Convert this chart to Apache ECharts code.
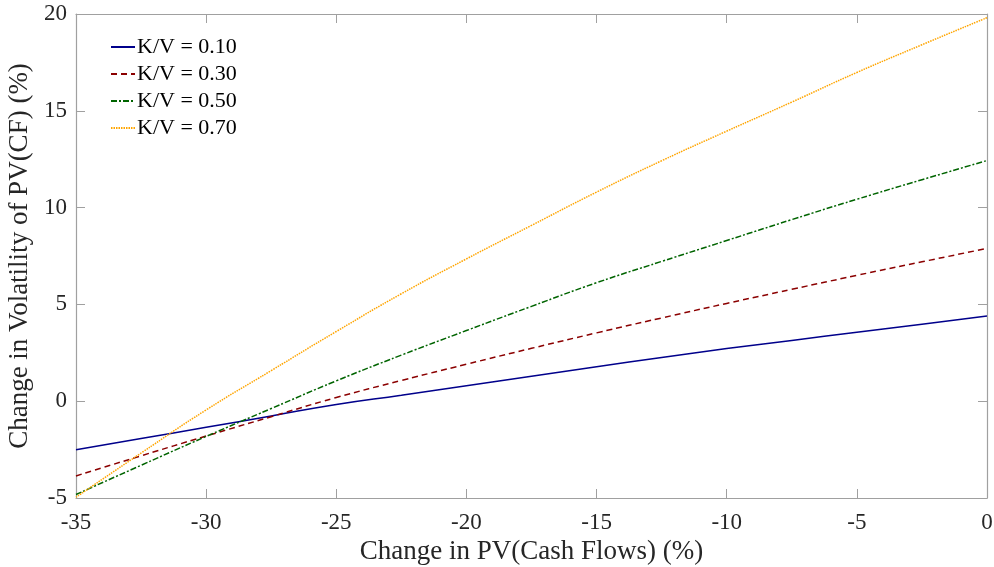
<!DOCTYPE html>
<html>
<head>
<meta charset="utf-8">
<script src="https://cdn.jsdelivr.net/npm/echarts@6/dist/echarts.min.js"></script>
<style>html,body{margin:0;padding:0;background:#fff;}#c{width:994px;height:567px;}</style>
</head>
<body>
<div id="c"></div>
<script>
const xValues = [-35, -32.5, -30, -27.5, -25, -22.5, -20, -17.5, -15, -12.5, -10, -7.5, -5, -2.5, 0];
const kv010 = [-2.51, -1.93, -1.35, -0.76, -0.17, 0.31, 0.80, 1.29, 1.78, 2.26, 2.72, 3.14, 3.56, 3.98, 4.40];
const kv030 = [-3.86, -2.82, -1.80, -0.80, 0.19, 1.07, 1.91, 2.73, 3.53, 4.30, 5.05, 5.78, 6.50, 7.20, 7.89];
const kv050 = [-4.82, -3.31, -1.82, -0.38, 1.05, 2.38, 3.65, 4.90, 6.12, 7.22, 8.30, 9.38, 10.43, 11.44, 12.43];
const kv070 = [-4.96, -2.68, -0.45, 1.58, 3.60, 5.55, 7.35, 9.08, 10.80, 12.42, 13.95, 15.45, 16.98, 18.41, 19.81];
const seriesNames = ['K/V = 0.10', 'K/V = 0.30', 'K/V = 0.50', 'K/V = 0.70'];
const xTicks = [-35, -30, -25, -20, -15, -10, -5, 0];
const yTicks = [-5, 0, 5, 10, 15, 20];

const font = 'Liberation Serif, Times New Roman, serif';
const axisGray = '#a0a0a0';
const txt = '#262626';
function pairs(ys){ return xValues.map((x,i)=>[x, ys[i]]); }

const chart = echarts.init(document.getElementById('c'), null, {renderer:'canvas'});
const baseX = {
  type:'value', min:-35, max:0, interval:5,
  axisLine:{show:true, onZero:false, lineStyle:{color:axisGray, width:1.2}},
  axisTick:{show:true, inside:true, length:9, lineStyle:{color:axisGray}},
  splitLine:{show:false}
};
const baseY = {
  type:'value', min:-5, max:20, interval:5,
  axisLine:{show:true, onZero:false, lineStyle:{color:axisGray, width:1.2}},
  axisTick:{show:true, inside:true, length:9, lineStyle:{color:axisGray}},
  splitLine:{show:false}
};
const styles = [
  {color:'#00008b', type:'solid'},
  {color:'#8b0000', type:[6,4]},
  {color:'#006400', type:[6,2,2,2]},
  {color:'#ffa500', type:[1.5,1]}
];
const data = [kv010, kv030, kv050, kv070];
chart.setOption({
  animation:false,
  backgroundColor:'#fff',
  textStyle:{fontFamily:font},
  grid:{left:76, right:7, top:14, bottom:69, containLabel:false, outerBoundsMode:'none'},
  legend:{
    orient:'vertical', left:105, top:31, itemWidth:24, itemHeight:14, itemGap:5,
    itemStyle:{opacity:0},
    textStyle:{fontFamily:font, fontSize:22, color:'#000', padding:[0,0,0,-3]},
    data:seriesNames
  },
  xAxis:[
    Object.assign({}, baseX, {
      position:'bottom',
      axisLabel:{show:true, fontFamily:font, fontSize:23, color:txt, margin:13, formatter:v=>xTicks.includes(v)?String(v):''},
      name:'Change in PV(Cash Flows) (%)', nameLocation:'middle', nameGap:40,
      nameTextStyle:{fontFamily:font, fontSize:27, color:txt}
    }),
    Object.assign({}, baseX, {position:'top', axisLabel:{show:false}})
  ],
  yAxis:[
    Object.assign({}, baseY, {
      position:'left',
      axisLabel:{show:true, fontFamily:font, fontSize:23, color:txt, margin:9, formatter:v=>yTicks.includes(v)?String(v):''},
      name:'Change in Volatility of PV(CF) (%)', nameLocation:'middle', nameGap:33,
      nameTextStyle:{fontFamily:font, fontSize:27, color:txt}
    }),
    Object.assign({}, baseY, {position:'right', axisLabel:{show:false}})
  ],
  series: data.map((ys,i)=>({
    name:seriesNames[i], type:'line', data:pairs(ys), smooth:true,
    showSymbol:false, symbol:'none', clip:true,
    lineStyle:{color:styles[i].color, type:styles[i].type, width:1.5},
    itemStyle:{color:styles[i].color},
    emphasis:{disabled:true}
  }))
});
</script>
</body>
</html>
